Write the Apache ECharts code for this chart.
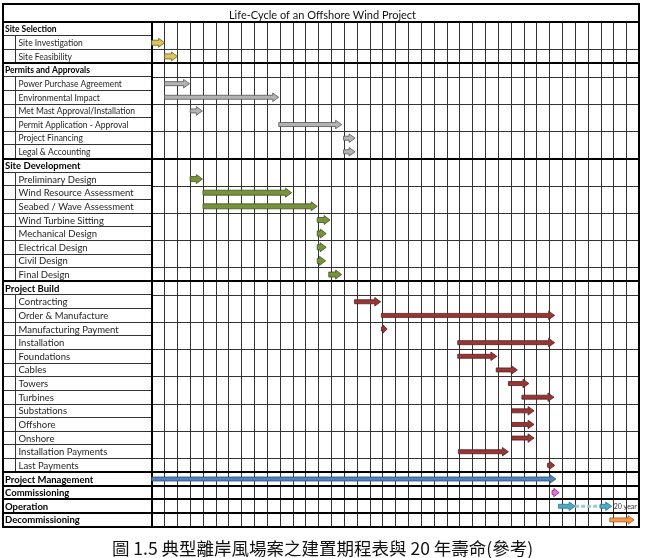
<!DOCTYPE html>
<html>
<head>
<meta charset="utf-8">
<script src="https://cdn.jsdelivr.net/npm/echarts@6/dist/echarts.min.js"></script>
<style>
  html, body { margin: 0; padding: 0; background: #fff; }
  #main { width: 645px; height: 558px; }
</style>
</head>
<body>
<div id="main"></div>
<script>
// rows of the table, top to bottom
const taskNames = [
  "Site Selection", "Site Investigation", "Site Feasibility",
  "Permits and Approvals", "Power Purchase Agreement", "Environmental Impact",
  "Met Mast Approval/Installation", "Permit Application - Approval",
  "Project Financing", "Legal & Accounting",
  "Site Development", "Preliminary Design", "Wind Resource Assessment",
  "Seabed / Wave Assessment", "Wind Turbine Sitting", "Mechanical Design",
  "Electrical Design", "Civil Design", "Final Design",
  "Project Build", "Contracting", "Order & Manufacture", "Manufacturing Payment",
  "Installation", "Foundations", "Cables", "Towers", "Turbines", "Substations",
  "Offshore", "Onshore", "Installation Payments", "Last Payments",
  "Project Management", "Commissioning", "Operation", "Decommissioning"
];
const headerRows = [
  "Site Selection", "Permits and Approvals", "Site Development", "Project Build",
  "Project Management", "Commissioning", "Operation", "Decommissioning"
];
// bar start / end in grid columns (null = no bar)
const taskStart = [
  null, 0, 1,
  null, 1, 1, 3, 9.9, 14.95, 14.95,
  null, 3, 4, 4, 12.9, 12.9, 12.9, 12.9, 13.8,
  null, 15.8, 17.9, 17.9, 23.85, 23.85, 26.85, 27.8, 28.85, 28.05,
  28.05, 28.05, 23.9, 30.85,
  0, 31.2, 31.7, 35.7
];
const taskEnd = [
  null, 1, 2,
  null, 2.95, 9.9, 3.95, 14.8, 15.85, 15.85,
  null, 3.95, 10.9, 12.9, 13.9, 13.6, 13.6, 13.55, 14.8,
  null, 17.85, 31.4, 18.35, 31.4, 26.9, 28.5, 29.4, 31.35, 29.8,
  29.8, 29.8, 27.8, 31.4,
  31.5, 31.75, 33.0, 37.6
];
// operation continues as a dashed span, then a second arrow
const operationDash = [33.0, 34.95];
const operationTail = [34.95, 35.85];
const operationNote = "20 year";
const columnCount = 38;

const chartTitle = "Life-Cycle of an Offshore Wind Project";
const caption = "圖 1.5 典型離岸風場案之建置期程表與 20 年壽命(參考)";

// colors for each phase (same order as headerRows)
const phaseFill = ["#dcc560", "#b4b4b4", "#77933c", "#953735", "#4f81bd", "#f06ad8", "#4bacc6", "#f79646"];
const phaseStroke = ["#6e5c14", "#555555", "#3f5220", "#5a1f1e", "#2f4f7a", "#7a2a8a", "#2a7288", "#a85e22"];

const LABEL_W = 148.7;
const TITLE_H = 18.3;
const LINE = "#333";

const crisp = v => Math.round(v - 0.5) + 0.5;

// phase of each row
let phase = -1;
const rowPhase = taskNames.map(n => {
  if (headerRows.includes(n)) phase++;
  return phase;
});

const barData = [];
taskNames.forEach((n, i) => {
  if (taskStart[i] != null) barData.push([i, taskStart[i], taskEnd[i], rowPhase[i]]);
});

function arrowShape(x0, x1, y, body, head, headLen) {
  const hl = Math.min(headLen, (x1 - x0) * 0.75);
  const xb = x1 - hl;
  return [
    [x0, y - body / 2], [xb, y - body / 2], [xb, y - head / 2], [x1, y],
    [xb, y + head / 2], [xb, y + body / 2], [x0, y + body / 2]
  ];
}

function renderBar(params, api) {
  const row = api.value(0);
  const p0 = api.coord([api.value(1), row]);
  const p1 = api.coord([api.value(2), row]);
  const g = api.value(3);
  const chunky = g === 0 || g === 2;
  return {
    type: "polygon",
    shape: { points: arrowShape(p0[0], p1[0], p0[1], chunky ? 5 : 4, chunky ? 9 : 8.5, 6) },
    style: { fill: phaseFill[g], stroke: phaseStroke[g], lineWidth: 0.8 }
  };
}

function renderOperation(params, api) {
  const row = api.value(0);
  const d0 = api.coord([api.value(1), row]);
  const d1 = api.coord([api.value(2), row]);
  const t1 = api.coord([api.value(3), row]);
  const g = rowPhase[row];
  return {
    type: "group",
    children: [
      {
        type: "line",
        shape: { x1: d0[0], y1: d0[1], x2: d1[0], y2: d1[1] },
        style: { stroke: "#93cddd", lineWidth: 3, lineDash: [4, 2] }
      },
      {
        type: "polygon",
        shape: { points: arrowShape(d1[0], t1[0], d1[1], 4, 8.5, 6) },
        style: { fill: phaseFill[g], stroke: phaseStroke[g], lineWidth: 0.8 }
      },
      {
        type: "text",
        style: {
          x: t1[0] + 2, y: t1[1], text: operationNote,
          font: "7px Lato", fill: "#333", verticalAlign: "middle"
        }
      }
    ]
  };
}

function renderLabel(params, api) {
  const i = api.value(1);
  const c = api.coord([0, i]);
  const h = api.size([0, 1])[1];
  const gx = c[0];
  const tl = gx - LABEL_W;
  const top = c[1] - h / 2, bottom = c[1] + h / 2;
  const right = api.coord([columnCount, i])[0];
  const name = taskNames[i];
  const header = headerRows.includes(name);
  const p = rowPhase[i];
  const children = [
    {
      type: "line",
      shape: { x1: tl, y1: crisp(bottom), x2: gx, y2: crisp(bottom) },
      style: { stroke: LINE, lineWidth: 1 }
    }
  ];
  if (!header) {
    children.push({
      type: "line",
      shape: { x1: crisp(tl + 12), y1: top, x2: crisp(tl + 12), y2: bottom },
      style: { stroke: LINE, lineWidth: 1 }
    });
  } else {
    children.push({
      type: "line",
      shape: { x1: tl, y1: Math.round(top), x2: right, y2: Math.round(top) },
      style: { stroke: "#000", lineWidth: 2 }
    });
  }
  let font;
  if (header) font = "bold " + (p >= 2 ? 9.5 : 8.5) + "px Lato";
  else font = (p >= 2 ? 9.5 : 8.5) + "px Lato";
  children.push({
    type: "text",
    style: {
      x: header ? tl + 2 : tl + 15.5, y: c[1] + 0.5, text: name, font: font,
      fill: header ? "#000" : "#262626", verticalAlign: "middle"
    }
  });
  return { type: "group", children: children };
}

function renderFrame(params, api) {
  const h = api.size([0, 1])[1];
  const first = api.coord([0, 0]);
  const last = api.coord([columnCount, taskNames.length - 1]);
  const gx = first[0];
  const gTop = first[1] - h / 2;
  const gBottom = last[1] + h / 2;
  const right = last[0];
  const tl = gx - LABEL_W;
  const top = gTop - TITLE_H;
  return {
    type: "group",
    children: [
      {
        type: "rect",
        shape: { x: Math.round(tl), y: Math.round(top), width: Math.round(right) - Math.round(tl), height: Math.round(gBottom) - Math.round(top) },
        style: { fill: null, stroke: "#000", lineWidth: 2 }
      },
      {
        type: "line",
        shape: { x1: tl, y1: Math.round(gTop), x2: right, y2: Math.round(gTop) },
        style: { stroke: "#000", lineWidth: 2 }
      },
      {
        type: "line",
        shape: { x1: Math.round(gx), y1: gTop, x2: Math.round(gx), y2: gBottom },
        style: { stroke: "#000", lineWidth: 2 }
      }
    ]
  };
}

const chart = echarts.init(document.getElementById("main"), null, { renderer: "canvas" });
chart.setOption({
  animation: false,
  backgroundColor: "#fff",
  title: [
    {
      text: chartTitle, left: "center", top: 5,
      textStyle: { fontFamily: "Lato", fontSize: 11, fontWeight: "normal", color: "#111" }
    },
    {
      text: caption, left: "center", top: 535,
      textStyle: { fontFamily: "Noto Sans CJK TC", fontSize: 17.5, fontWeight: "normal", color: "#111" }
    }
  ],
  grid: { left: 151.7, right: 5.7, top: 22.3, bottom: 31.3 },
  xAxis: {
    type: "value", min: 0, max: columnCount, interval: 1,
    axisLabel: { show: false }, axisTick: { show: false }, axisLine: { show: false },
    splitLine: { show: true, lineStyle: { color: LINE, width: 1 } }
  },
  yAxis: {
    type: "category", data: taskNames, inverse: true,
    axisLabel: { show: false }, axisTick: { show: false }, axisLine: { show: false },
    splitLine: { show: true, lineStyle: { color: LINE, width: 1 } }
  },
  series: [
    {
      type: "custom", name: "labels", renderItem: renderLabel, z: 3,
      data: taskNames.map((n, i) => [0, i]), encode: { x: 0, y: 1 }, silent: true
    },
    {
      type: "custom", name: "frame", renderItem: renderFrame, z: 4,
      data: [[0, 0]], encode: { x: 0, y: 1 }, silent: true
    },
    {
      type: "custom", name: "tasks", renderItem: renderBar, z: 5,
      data: barData, encode: { x: [1, 2], y: 0 }
    },
    {
      type: "custom", name: "operation", renderItem: renderOperation, z: 5,
      data: [[taskNames.indexOf("Operation"), operationDash[0], operationDash[1], operationTail[1]]],
      encode: { x: [1, 2, 3], y: 0 }
    }
  ]
});
</script>
</body>
</html>
